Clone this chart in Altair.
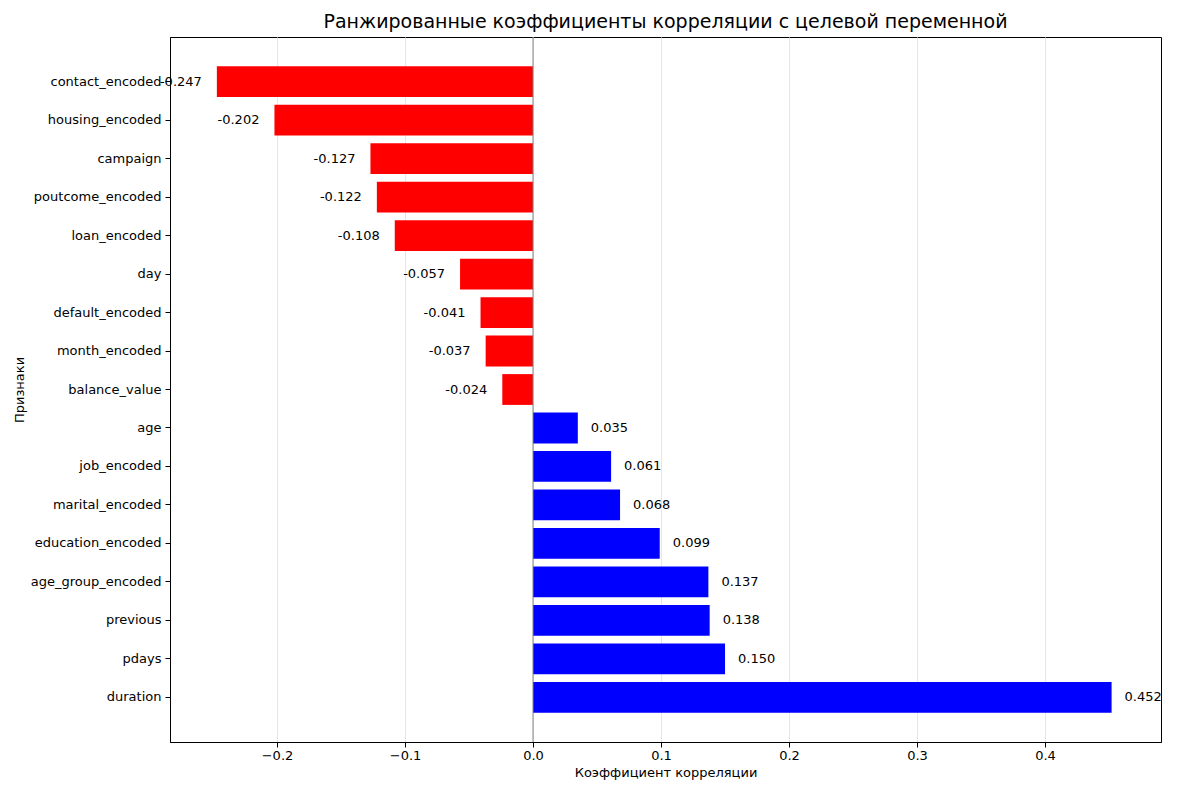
import altair as alt
import pandas as pd

features = [
    "contact_encoded", "housing_encoded", "campaign", "poutcome_encoded",
    "loan_encoded", "day", "default_encoded", "month_encoded", "balance_value",
    "age", "job_encoded", "marital_encoded", "education_encoded",
    "age_group_encoded", "previous", "pdays", "duration",
]
corr = [
    -0.247, -0.202, -0.127, -0.122, -0.108, -0.057, -0.041, -0.037, -0.024,
    0.035, 0.061, 0.068, 0.099, 0.137, 0.138, 0.150, 0.452,
]

df = pd.DataFrame({"feature": features, "corr": corr})
df["label"] = df["corr"].map(lambda v: f"{v:.3f}")
df["sign"] = df["corr"].map(lambda v: "neg" if v < 0 else "pos")

font = "DejaVu Sans"
xs = alt.Scale(domain=[-0.2836, 0.4906], nice=False, zero=False)
ys = alt.Scale(paddingInner=0.2, paddingOuter=0.76)

base = alt.Chart(df).encode(
    y=alt.Y("feature:N", sort=features, scale=ys, title="Признаки",
            axis=alt.Axis(grid=False, labelFontSize=13, titleFontSize=13,
                          labelFont=font, titleFont=font, labelColor="black",
                          titleColor="black", titleFontWeight="normal",
                          tickColor="black", domainColor="black", labelPadding=4)),
)

bars = base.mark_bar().encode(
    x=alt.X("corr:Q", scale=xs, title="Коэффициент корреляции",
            axis=alt.Axis(values=[-0.2, -0.1, 0, 0.1, 0.2, 0.3, 0.4],
                          format=".1f", gridColor="#e6e6e6", labelFontSize=13,
                          titleFontSize=13, labelFont=font, titleFont=font,
                          labelColor="black", titleColor="black",
                          titleFontWeight="normal", tickColor="black",
                          domainColor="black")),
    color=alt.Color("sign:N", scale=alt.Scale(domain=["neg", "pos"],
                                              range=["#ff0000", "#0000ff"]),
                    legend=None),
)

neg_text = base.transform_filter("datum.corr < 0").mark_text(
    align="right", dx=-15, fontSize=13, font=font, color="black"
).encode(x=alt.X("corr:Q", scale=xs), text="label:N")

pos_text = base.transform_filter("datum.corr >= 0").mark_text(
    align="left", dx=13, fontSize=13, font=font, color="black"
).encode(x=alt.X("corr:Q", scale=xs), text="label:N")

zero = alt.Chart(pd.DataFrame({"z": [0]})).mark_rule(
    color="gray", opacity=0.8, strokeWidth=1.2
).encode(x=alt.X("z:Q", scale=xs))

chart = (bars + zero + neg_text + pos_text).properties(
    width=991, height=705,
    title=alt.TitleParams("Ранжированные коэффициенты корреляции с целевой переменной",
                          fontSize=19, font=font, fontWeight="normal", color="black"),
).configure_view(stroke="black", strokeWidth=1)

chart.save("out.html", embed_options={"renderer": "svg", "actions": False})
